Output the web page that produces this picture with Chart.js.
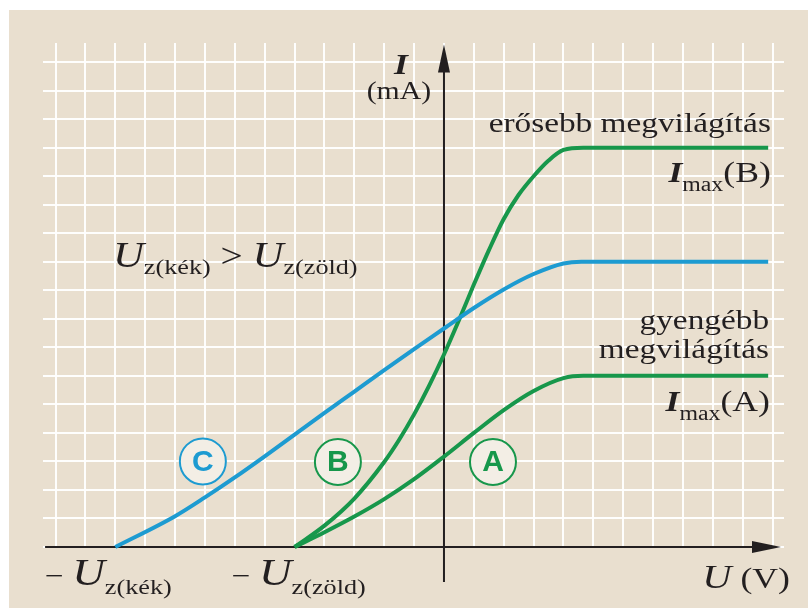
<!DOCTYPE html>
<html>
<head>
<meta charset="utf-8">
<script src="https://cdn.jsdelivr.net/npm/chart.js@4.4.1/dist/chart.umd.min.js"></script>
<style>
  html, body { margin: 0; padding: 0; background: #fff; }
</style>
</head>
<body>
<canvas id="chart" width="808" height="608"></canvas>
<script>
// U and I in grid units (one grid cell = one unit)
const uKek = [-11, -9, -8, -7, -6, -5, -4, -3, -2, -1, 0, 1, 2, 3, 4, 4.6, 10.85];
const iKek = [0, 1.08, 1.74, 2.44, 3.18, 3.94, 4.70, 5.45, 6.2, 6.94, 7.66, 8.38, 9.03, 9.57, 9.94, 10, 10];

const uZoldB = [-5, -4, -3, -2, -1.5, -1, -0.5, 0, 0.5, 1, 1.5, 2, 2.5, 3, 3.5, 4, 4.66, 10.85];
const iZoldB = [0, 0.75, 1.7, 2.98, 3.76, 4.65, 5.65, 6.75, 7.95, 9.2, 10.4, 11.5, 12.35, 13.0, 13.55, 13.92, 14, 14];

const uZoldA = [-5, -4, -3, -2, -1, 0, 1, 2, 3, 4, 4.66, 10.85];
const iZoldA = [0, 0.52, 1.07, 1.68, 2.38, 3.17, 4.0, 4.8, 5.47, 5.92, 6, 6];

const gridU = [-13, -12, -11, -10, -9, -8, -7, -6, -5, -4, -3, -2, -1, 0, 1, 2, 3, 4, 5, 6, 7, 8, 9, 10, 11];
const gridI = [0, 1, 2, 3, 4, 5, 6, 7, 8, 9, 10, 11, 12, 13, 14, 15, 16, 17];

// circled curve names
const circleNames = ['C', 'B', 'A'];
const circleU = [-8.07, -3.55, 1.64];
const circleI = [3.0, 2.98, 2.98];

const KEK = '#1d9bd1';
const ZOLD = '#17974b';
const INK = '#231f20';
const SERIF = "'Liberation Serif', 'Times New Roman', serif";
const SANS = "'Liberation Sans', Arial, sans-serif";
const SX = 1.19; // the type in the picture is a bit wider than normal

const f = (style, size) => style + ' ' + size + 'px ' + SERIF;

// text labels, placed in data units
const labels = [
  { u: -1.44, i: 16.58, align: 'center', parts: [['I', f('italic bold', 30), 0]] },
  { u: -1.51, i: 15.71, align: 'center', parts: [['(mA)', f('normal', 25), 0]] },
  { u: 10.94, i: 14.55, align: 'right', parts: [['erősebb megvilágítás', f('normal', 28), 0]] },
  { u: 10.94, i: 12.80, align: 'right', parts: [['I', f('italic bold', 30), 0], ['max', f('normal', 20), 9], ['(B)', f('normal', 30), 0]] },
  { u: 10.88, i: 7.64, align: 'right', parts: [['gyengébb', f('normal', 28), 0]] },
  { u: 10.88, i: 6.63, align: 'right', parts: [['megvilágítás', f('normal', 28), 0]] },
  { u: 10.91, i: 4.77, align: 'right', parts: [['I', f('italic bold', 30), 0], ['max', f('normal', 20), 9], ['(A)', f('normal', 30), 0]] },
  { u: -11.08, i: 9.82, align: 'left', parts: [['U', f('italic', 36), 0], ['z(kék)', f('normal', 22), 7], [' > ', f('normal', 33), 0], ['U', f('italic', 36), 0], ['z(zöld)', f('normal', 22), 7]] },
  { u: -13.35, i: -1.33, align: 'left', parts: [['− ', f('normal', 28), 0], ['U', f('italic', 38), 0], ['z(kék)', f('normal', 22), 9]] },
  { u: -7.10, i: -1.33, align: 'left', parts: [['− ', f('normal', 28), 0], ['U', f('italic', 38), 0], ['z(zöld)', f('normal', 22), 9]] },
  { u: 11.58, i: -1.44, align: 'right', parts: [['U', f('italic', 34), 0], [' (V)', f('normal', 30), 0]] }
];

const pts = (us, is) => us.map((u, k) => ({ x: u, y: is[k] }));

function drawRuns(c, parts, x, y, align) {
  let w = 0;
  parts.forEach(p => { c.font = p[1]; w += c.measureText(p[0]).width * SX; });
  let cx = align === 'right' ? x - w : align === 'center' ? x - w / 2 : x;
  parts.forEach(p => {
    c.font = p[1];
    c.save();
    c.translate(cx, y + p[2]);
    c.scale(SX, 1);
    c.fillText(p[0], 0, 0);
    c.restore();
    cx += c.measureText(p[0]).width * SX;
  });
}

const background = {
  id: 'background',
  beforeDraw(chart) {
    const c = chart.ctx;
    c.save();
    c.fillStyle = '#fff';
    c.fillRect(0, 0, chart.width, chart.height);
    c.fillStyle = '#e9dfcf';
    c.fillRect(9, 10, chart.width - 9, chart.height - 10);
    c.restore();
  }
};

const axes = {
  id: 'axes',
  beforeDatasetsDraw(chart) {
    const c = chart.ctx;
    const xs = chart.scales.x, ys = chart.scales.y;
    const x0 = xs.getPixelForValue(0), y0 = ys.getPixelForValue(0);
    const xTip = xs.getPixelForValue(11.28), yTip = ys.getPixelForValue(17.62);
    c.save();
    c.strokeStyle = INK;
    c.fillStyle = INK;
    c.lineWidth = 2;
    c.beginPath();
    c.moveTo(xs.getPixelForValue(-13.35), y0);
    c.lineTo(xTip - 20, y0);
    c.moveTo(x0, ys.getPixelForValue(-1.23));
    c.lineTo(x0, yTip + 20);
    c.stroke();
    // arrow heads
    c.beginPath();
    c.moveTo(xTip, y0);
    c.lineTo(xTip - 29, y0 - 6);
    c.lineTo(xTip - 29, y0 + 6);
    c.closePath();
    c.fill();
    c.beginPath();
    c.moveTo(x0, yTip);
    c.lineTo(x0 - 6, yTip + 28);
    c.lineTo(x0 + 6, yTip + 28);
    c.closePath();
    c.fill();
    c.restore();
  }
};

const annotations = {
  id: 'annotations',
  afterDatasetsDraw(chart) {
    const c = chart.ctx;
    const xs = chart.scales.x, ys = chart.scales.y;
    c.save();
    circleNames.forEach((name, k) => {
      const col = name === 'C' ? KEK : ZOLD;
      const px = xs.getPixelForValue(circleU[k]), py = ys.getPixelForValue(circleI[k]);
      c.beginPath();
      c.arc(px, py, 23, 0, Math.PI * 2);
      c.fillStyle = '#f3eee5';
      c.fill();
      c.lineWidth = 2;
      c.strokeStyle = col;
      c.stroke();
      c.fillStyle = col;
      c.font = 'bold 30px ' + SANS;
      c.textAlign = 'center';
      c.textBaseline = 'middle';
      c.fillText(name, px, py + 1);
    });
    c.textAlign = 'left';
    c.textBaseline = 'alphabetic';
    c.fillStyle = INK;
    labels.forEach(l => {
      drawRuns(c, l.parts, xs.getPixelForValue(l.u), ys.getPixelForValue(l.i), l.align);
    });
    c.restore();
  }
};

const lineStyle = { pointRadius: 0, borderWidth: 4, fill: false, cubicInterpolationMode: 'monotone', clip: false, borderCapStyle: 'butt' };

new Chart(document.getElementById('chart'), {
  type: 'line',
  data: {
    datasets: [
      Object.assign({ label: 'C', data: pts(uKek, iKek), borderColor: KEK }, lineStyle),
      Object.assign({ label: 'B', data: pts(uZoldB, iZoldB), borderColor: ZOLD }, lineStyle),
      Object.assign({ label: 'A', data: pts(uZoldA, iZoldA), borderColor: ZOLD }, lineStyle)
    ]
  },
  options: {
    responsive: false,
    animation: false,
    layout: { padding: { left: 43, top: 43, right: 24, bottom: 61 } },
    plugins: { legend: { display: false }, tooltip: { enabled: false } },
    scales: {
      x: {
        type: 'linear', min: -13.42, max: 11.38,
        border: { display: false },
        grid: { color: 'rgba(255,255,255,0.95)', lineWidth: 2, drawTicks: false },
        ticks: { display: false },
        afterBuildTicks: s => { s.ticks = gridU.map(v => ({ value: v })); }
      },
      y: {
        type: 'linear', min: 0, max: 17.67,
        border: { display: false },
        grid: { color: 'rgba(255,255,255,0.95)', lineWidth: 2, drawTicks: false },
        ticks: { display: false },
        afterBuildTicks: s => { s.ticks = gridI.map(v => ({ value: v })); }
      }
    }
  },
  plugins: [background, axes, annotations]
});
</script>
</body>
</html>
